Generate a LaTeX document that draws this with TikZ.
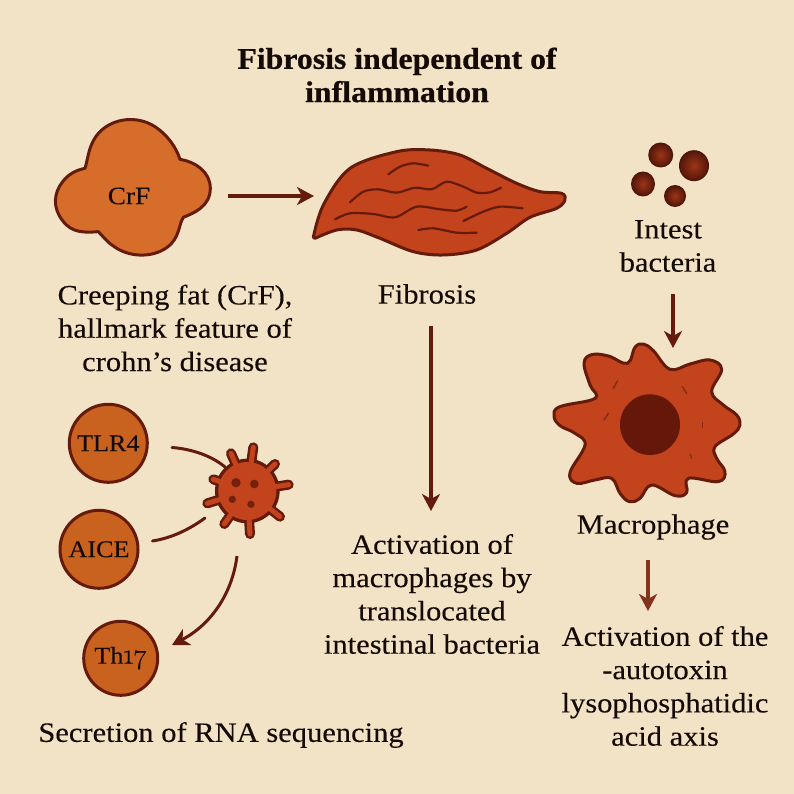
\documentclass[tikz,border=0pt]{standalone}
\usepackage{fontspec}
\setmainfont{Liberation Serif}[FakeStretch=1.09,FakeBold=0.25]
\newfontfamily\oldnums{Latin Modern Roman}[Numbers=OldStyle,FakeBold=0.6]
\newfontfamily\headfont{Liberation Serif Bold}[FakeStretch=1.06,FakeBold=0.6]
\usetikzlibrary{arrows.meta,calc}
\definecolor{paper}{HTML}{F3E3C6}
\definecolor{ink}{HTML}{150B06}
\definecolor{rim}{HTML}{651B0B}
\definecolor{fatfill}{HTML}{D66D2A}
\definecolor{tissue}{HTML}{C3431D}
\definecolor{disc}{HTML}{C9621F}
\definecolor{corefill}{HTML}{651709}
\definecolor{softarrow}{HTML}{84341C}
\tikzset{
  label text/.style={text=ink,align=center,inner sep=0pt,font=\fontsize{28}{33.3}\selectfont},
  title text/.style={text=ink,align=center,inner sep=0pt,font=\fontsize{30}{33.3}\headfont},
  cell rim/.style={draw=rim,line width=3pt,line join=round},
  fibre/.style={draw=rim,line width=2.2pt,line cap=round},
  flow/.style={draw=rim,line width=3.6pt,-{Stealth[length=17pt,width=18pt,inset=5pt]}},
  plain link/.style={draw=rim,line width=3pt,line cap=round},
  disc node/.style={circle,fill=disc,draw=rim,line width=3pt,inner sep=0pt,text=ink,font=\fontsize{24}{28}\selectfont},
}
\begin{document}
\begin{tikzpicture}[x=1pt,y=-1pt]
\useasboundingbox (0,0) rectangle (794,794);
\fill[paper] (0,0) rectangle (794,794);

% Creeping fat lobes
\begin{scope}[shift={(30,100)},x=.3333pt,y=-.3333pt]
\draw[cell rim,fill=fatfill]
  (165,205) .. controls (175,175) and (175,130) .. (210,95)
  .. controls (250,55) and (320,45) .. (375,80)
  .. controls (410,103) and (438,140) .. (450,178)
  .. controls (495,185) and (541,215) .. (541,265)
  .. controls (541,320) and (490,340) .. (460,352)
  .. controls (445,375) and (450,415) .. (410,443)
  .. controls (365,475) and (295,472) .. (250,438)
  .. controls (230,425) and (220,410) .. (205,395)
  .. controls (165,398) and (125,400) .. (98,362)
  .. controls (68,325) and (70,280) .. (98,245)
  .. controls (115,222) and (140,210) .. (165,205) -- cycle;
\end{scope}
\node[text=ink,inner sep=0pt,font=\fontsize{25}{28}\selectfont] (crf) at (129,196) {CrF};
\coordinate (crfout) at (228,196);
\coordinate (fibin) at (314,196);
\draw[flow] (crfout) -- (fibin);

% Fibrotic tissue
\begin{scope}[shift={(300,130)},x=.3333pt,y=-.3333pt]
\draw[cell rim,fill=tissue]
  plot[smooth,tension=.55] coordinates {(40,322) (70,225) (150,115) (290,65) (390,60) (480,75) (560,115) (650,160) (720,185) (785,190) (795,210) (770,235) (690,262) (620,310) (530,360) (430,375) (340,365) (240,325) (170,300) (110,300) (45,325)} -- cycle;
\draw[fibre] plot[smooth] coordinates {(265,133) (300,110) (340,100) (385,107)};
\draw[fibre] plot[smooth] coordinates {(150,217) (190,185) (235,178) (290,188) (345,173) (395,178) (440,155) (490,170) (530,188) (570,187) (603,173)};
\draw[fibre] plot[smooth] coordinates {(105,268) (150,250) (220,252) (285,262) (350,230) (420,238) (470,242) (500,230)};
\draw[fibre] plot[smooth] coordinates {(490,273) (550,245) (600,230) (668,235)};
\draw[fibre] plot[smooth] coordinates {(355,300) (400,295) (470,308) (530,308)};
\end{scope}

% Intestinal bacteria
\foreach \cx/\cy/\rx/\ry in {660.7/155/12.5/12.5, 694/165.7/15/15.5, 643/184/12/12.5, 675/196/11/11}{
  \fill[black!25!rim] (\cx,\cy) ellipse[x radius=\rx,y radius=\ry];
  \shade[inner color=tissue!80!black,outer color=black!15!rim] (\cx,\cy) ellipse[x radius=\rx-1,y radius=\ry-1];
}

% Macrophage
\begin{scope}[shift={(540,330)},x=.3333pt,y=-.3333pt]
\draw[cell rim,fill=tissue]
  plot[smooth cycle,tension=.65] coordinates {(132,100) (155,74) (205,78) (262,100) (285,52) (310,42) (340,62) (390,118) (450,102) (510,90) (545,118) (515,185) (550,225) (590,255) (600,285) (580,312) (525,350) (530,385) (555,425) (535,455) (445,445) (440,488) (405,497) (335,465) (300,505) (268,515) (240,490) (215,445) (165,450) (110,460) (90,428) (135,345) (105,310) (60,287) (42,258) (60,230) (165,205) (150,165)};
\fill[corefill] (330,284) ellipse[x radius=90,y radius=91];
\draw[tissue!65!black,line width=1.4pt,line cap=round] (220,175) -- (233,152);
\draw[tissue!65!black,line width=1.4pt,line cap=round] (427,170) -- (440,190);
\draw[tissue!65!black,line width=1.4pt,line cap=round] (192,270) -- (205,250);
\draw[tissue!65!black,line width=1pt,line cap=round] (488,278) -- (488,292);
\draw[tissue!65!black,line width=1pt,line cap=round] (450,372) -- (455,385);
\end{scope}

% Antigen-presenting cell with its spikes
\begin{scope}[shift={(50,410)},x=.3333pt,y=-.3333pt]
\foreach \sx/\sy in {610/112, 543/130, 675/162, 716/224, 490/208, 472/280, 523/342, 600/372, 690/320}{
  \draw[rim,line width=10pt,line cap=round] (592,243) -- (\sx,\sy);
}
\fill[rim] (592,243) circle[radius=97];
\foreach \sx/\sy in {610/112, 543/130, 675/162, 716/224, 490/208, 472/280, 523/342, 600/372, 690/320}{
  \draw[tissue,line width=5pt,line cap=round] (592,243) -- (\sx,\sy);
}
\fill[tissue] (592,243) circle[radius=87];
\foreach \dx/\dy/\dr in {558/218/14, 613/222/13, 547/268/11, 603/283/11}{
  \fill[rim!85!tissue] (\dx,\dy) circle[radius=\dr];
}
\end{scope}

% Receptors and T-helper cells
\node[disc node,minimum size=78pt] (tlr) at (108.3,443.3) {TLR4};
\node[disc node,minimum size=78pt] (aice) at (99,549.3) {AICE};
\node[disc node,minimum size=74pt] (th) at (120.7,658.3) {Th{\oldnums\fontsize{28}{28}\selectfont 17}};

\coordinate (tlrout) at (172,447.5);
\coordinate (cellin) at (225,467);
\coordinate (aiceout) at (152.5,541);
\coordinate (cellin2) at (205,518);
\coordinate (cellout) at (237,556);
\coordinate (thin) at (172,645);
\draw[plain link] (tlrout) .. controls (192,449) and (212,456) .. (cellin);
\draw[plain link] (aiceout) .. controls (172,538) and (190,529) .. (cellin2);
\draw[flow,line width=3pt] (cellout) .. controls (232,595) and (210,625) .. (thin);

% Captions
\node[title text] (head) at (397,75) {Fibrosis independent of\\inflammation};
\node[label text] (fat) at (175,328) {Creeping fat (CrF),\\hallmark feature of\\crohn{\char39}s disease};
\node[label text] (fib) at (427,294) {Fibrosis};
\node[label text] (bac) at (668,246) {Intest\\bacteria};
\node[label text] (mac) at (653,527) {Macrophage};
\node[label text] (act) at (432,594) {Activation of\\macrophages by\\translocated\\intestinal bacteria};
\node[label text] (axis) at (665,686) {Activation of the\\-autotoxin\\lysophosphatidic\\acid axis};
\node[label text] (rna) at (221,735) {Secretion of RNA sequencing};

% Main arrows
\coordinate (fibout) at (431,326);
\coordinate (actin) at (431,511);
\coordinate (bacout) at (673,294);
\coordinate (macin) at (673,348);
\coordinate (macout) at (648,560);
\coordinate (axisin) at (648,611);
\draw[flow] (fibout) -- (actin);
\draw[flow] (bacout) -- (macin);
\draw[flow,draw=softarrow] (macout) -- (axisin);
\end{tikzpicture}
\end{document}
